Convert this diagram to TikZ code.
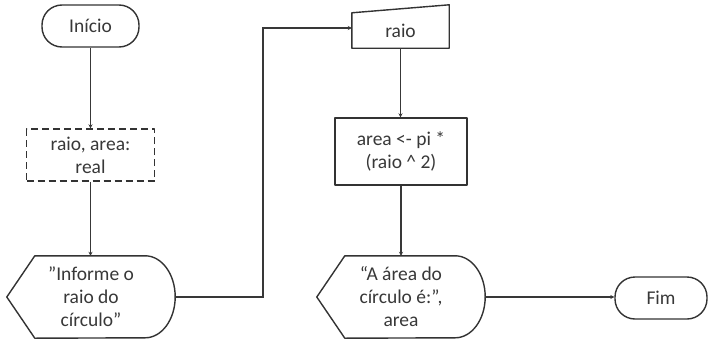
\documentclass[tikz,border=0pt]{standalone}
\usepackage{fontspec}
\setmainfont{Carlito}
\usetikzlibrary{arrows.meta}
\begin{document}
\begin{tikzpicture}[x=1pt,y=-1pt,
  every node/.style={font=\fontsize{19.5}{23}\selectfont, text=black!78, align=center, inner sep=0pt},
  shp/.style={draw=black!80, line width=1.4pt, fill=white, line join=round},
  conn/.style={draw=black!78, line width=1.4pt, -{Stealth[length=4pt,width=4pt]}},
  terminal/.style={shp, rounded corners=20pt},
  proc/.style={shp},
  decl/.style={shp, dash pattern=on 7pt off 4pt}]
\useasboundingbox (0,0) rectangle (708,340);
% nodes
\node[terminal, minimum width=97pt, minimum height=42pt] (ini) at (90.5,26) {Início};
\node[decl, minimum width=128pt, minimum height=52pt] (dec) at (90.5,155) {raio, area:\\real};
\node[minimum width=168pt, minimum height=82pt] (d1) at (91,297) {};
\node[minimum width=97pt, minimum height=38pt] (mi) at (400.5,29) {};
\node[proc, minimum width=132pt, minimum height=67pt] (calc) at (401,151.5) {area <- pi *\\(raio \^{} 2)};
\node[minimum width=168pt, minimum height=82pt] (d2) at (401,297) {};
\node[terminal, minimum width=92pt, minimum height=42pt] (fim) at (661,298) {Fim};
% display shapes
\draw[shp] (d1.west) -- ([xshift=28pt]d1.north west) -- ([xshift=-30pt]d1.north east)
  arc[start angle=90, end angle=-90, x radius=30pt, y radius=41pt]
  -- ([xshift=28pt]d1.south west) -- cycle;
\node at (d1) {\char34 Informe o\\raio do\\círculo\char34};
\draw[shp] (d2.west) -- ([xshift=28pt]d2.north west) -- ([xshift=-30pt]d2.north east)
  arc[start angle=90, end angle=-90, x radius=30pt, y radius=41pt]
  -- ([xshift=28pt]d2.south west) -- cycle;
\node at (d2) {“A área do\\círculo é:”,\\area};
% manual input
\draw[shp] (mi.south west) -- ([yshift=-3pt]mi.north west) -- ([yshift=5pt]mi.north east) -- (mi.south east) -- cycle;
\node at ([yshift=-2pt]mi.center) {raio};
% connectors
\coordinate (turn) at (263,28);
\draw[conn] (ini.south) -- (ini.south |- dec.north);
\draw[conn] (dec.south) -- (dec.south |- d1.north);
\draw[conn] (d1.east) -- (d1.east -| turn) -- (turn) -- (turn -| mi.west);
\draw[conn] (mi.south) -- (mi.south |- calc.north);
\draw[conn] (calc.south) -- (calc.south |- d2.north);
\draw[conn] (d2.east) -- (d2.east -| fim.west);
\end{tikzpicture}
\end{document}
